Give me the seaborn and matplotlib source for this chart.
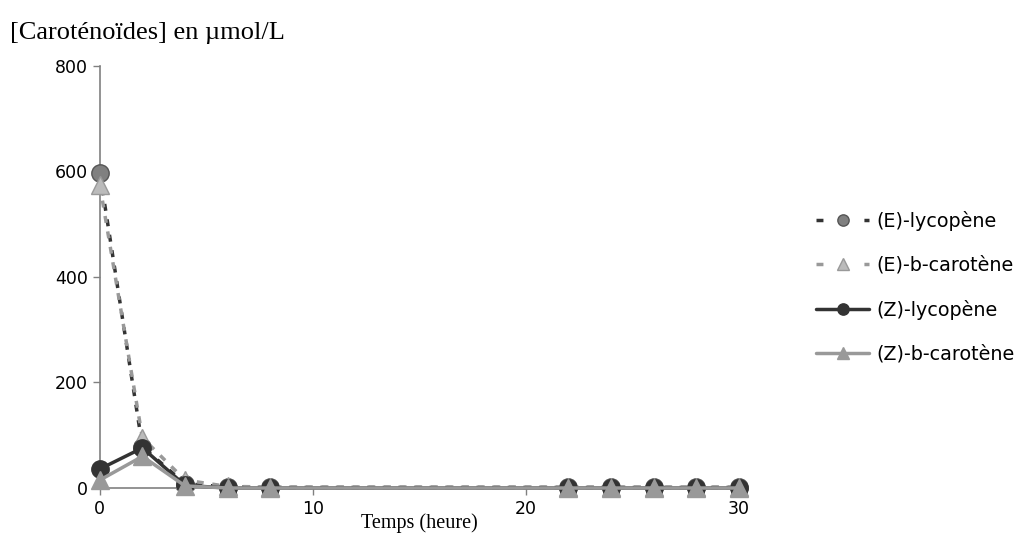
import seaborn as sns
import pandas as pd
import matplotlib.pyplot as plt

# Time points (heure)
temps = [0, 2, 4, 6, 8, 22, 24, 26, 28, 30]

# Concentrations (umol/L)
e_lycopene = [597, 78, 8, 2, 1, 1, 1, 1, 1, 1]
e_b_carotene = [574, 95, 15, 3, 2, 2, 2, 2, 2, 2]
z_lycopene = [36, 76, 5, 0, 0, 0, 0, 0, 0, 0]
z_b_carotene = [15, 60, 4, 0, 0, 0, 0, 0, 0, 0]

labels = ['(E)-lycopène', '(E)-b-carotène', '(Z)-lycopène', '(Z)-b-carotène']

sns.set_style('white', {'text.color': 'black', 'xtick.color': 'black', 'ytick.color': 'black'})
plt.rcParams['font.family'] = ['DejaVu Sans']

df = pd.DataFrame({'temps': temps * 4,
                   'conc': e_lycopene + e_b_carotene + z_lycopene + z_b_carotene,
                   'serie': [l for l in labels for _ in temps]})

styles = {
    '(E)-lycopène': dict(color='#333333', ls=(0, (2, 2.5)), marker='o', mfc='#808080', mec='#555555', ms=12.5),
    '(E)-b-carotène': dict(color='#999999', ls=(0, (2, 2.5)), marker='^', mfc='#bbbbbb', mec='#999999', ms=13),
    '(Z)-lycopène': dict(color='#333333', ls='-', marker='o', mfc='#333333', mec='#333333', ms=12.5),
    '(Z)-b-carotène': dict(color='#999999', ls='-', marker='^', mfc='#999999', mec='#999999', ms=13),
}

fig, ax = plt.subplots(figsize=(10.19, 5.59), dpi=100)
fig.subplots_adjust(left=0.098, right=0.725, top=0.882, bottom=0.127)

for lab in labels:
    st = styles[lab]
    sns.lineplot(data=df[df['serie'] == lab], x='temps', y='conc', ax=ax, label=lab,
                 color=st['color'], linestyle=st['ls'], marker=st['marker'],
                 markerfacecolor=st['mfc'], markeredgecolor=st['mec'], markersize=st['ms'],
                 markeredgewidth=1, linewidth=2.5, clip_on=False, zorder=3)

ax.set_xlim(0, 30)
ax.set_ylim(0, 800)
ax.set_xticks([0, 10, 20, 30])
ax.set_yticks([0, 200, 400, 600, 800])
ax.tick_params(axis='both', labelsize=12.5, length=5, width=1, color='#808080', direction='out',
               bottom=True, left=True, labelcolor='black')
for s in ['top', 'right']:
    ax.spines[s].set_visible(False)
for s in ['left', 'bottom']:
    ax.spines[s].set_color('#808080')
    ax.spines[s].set_linewidth(1.2)

ax.set_xlabel('Temps (heure)', family='Liberation Serif', fontsize=14.5, labelpad=-3, color='black')
ax.set_ylabel('')
fig.text(0.01, 0.93, '[Caroténoïdes] en µmol/L', family='Liberation Serif', fontsize=19, color='black')

leg = ax.legend(loc='center left', bbox_to_anchor=(1.0935, 0.476), frameon=False, fontsize=13.8,
                handlelength=2.8, labelspacing=1.3, handletextpad=0.37, markerscale=0.65)
# wider dash gaps in the legend keys: dash - marker - dash
for h in leg.get_lines()[:2]:
    h.set_linestyle((0, (2, 11.8)))

plt.savefig('out.png')
